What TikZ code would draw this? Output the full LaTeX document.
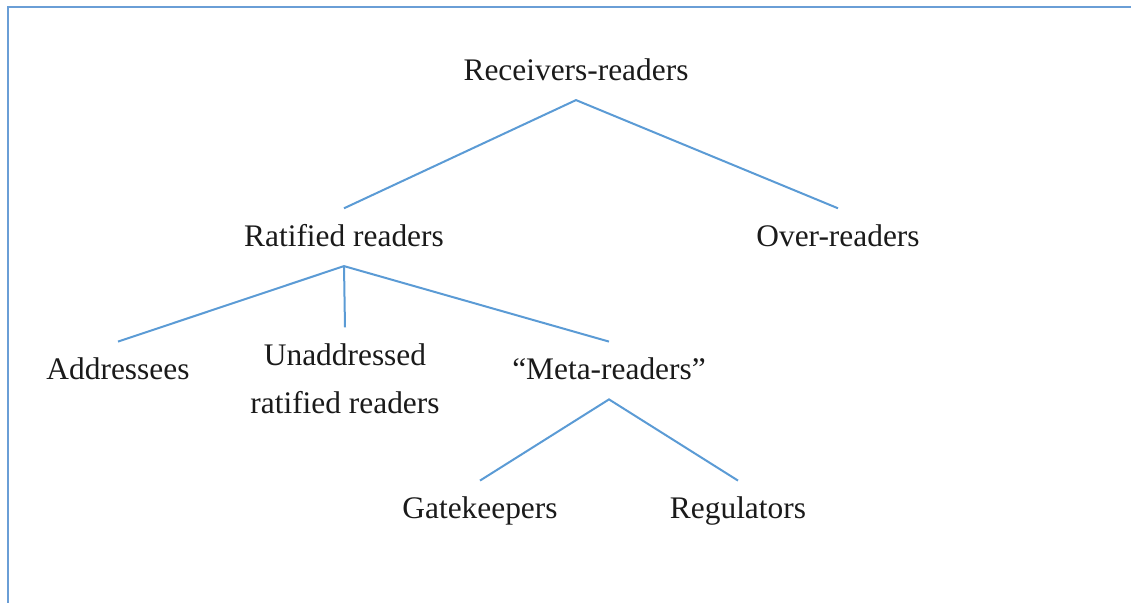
\documentclass[tikz,border=0pt]{standalone}
\usepackage{fontspec}
\setmainfont{Liberation Serif}
\definecolor{treeline}{HTML}{5B9BD5}
\definecolor{framecol}{HTML}{6A9ED6}
\definecolor{labeltext}{HTML}{1A1A1A}

\begin{document}
\begin{tikzpicture}[x=0.5pt, y=-0.5pt,
    lbl/.style={inner sep=0pt, anchor=base, text height=19pt, text depth=9.5pt,
        text=labeltext, font=\fontsize{15.7}{24}\selectfont},
    branch/.style={treeline, line width=1pt}]
    \useasboundingbox (0,0) rectangle (1131,603);

    % frame (only top and left edges are visible)
    \draw[framecol, line width=1.2pt] (1131,7) -- (8,7) -- (8,603);

    % labels
    \node[lbl] (recv) at (576,80.7) {Receivers-readers};
    \node[lbl] (ratified) at (344,246.7) {Ratified readers};
    \node[lbl] (over) at (838,246.7) {Over-readers};
    \node[lbl] (addr) at (118,380) {Addressees};
    \node[lbl] (unaddr) at (345,365.7)
        {\begin{tabular}[t]{@{}c@{}}Unaddressed\\ratified readers\end{tabular}};
    \node[lbl] (meta) at (609,380) {``Meta-readers''};
    \node[lbl] (gate) at (480,519) {Gatekeepers};
    \node[lbl] (regul) at (738,519) {Regulators};

    % branches
    \draw[branch] (ratified.north) -- (recv.south) -- (over.north);
    \draw[branch] (addr.north) -- (ratified.south) -- (meta.north);
    \draw[branch] (ratified.south) -- (unaddr.north);
    \draw[branch] (gate.north) -- (meta.south) -- (regul.north);
\end{tikzpicture}
\end{document}
